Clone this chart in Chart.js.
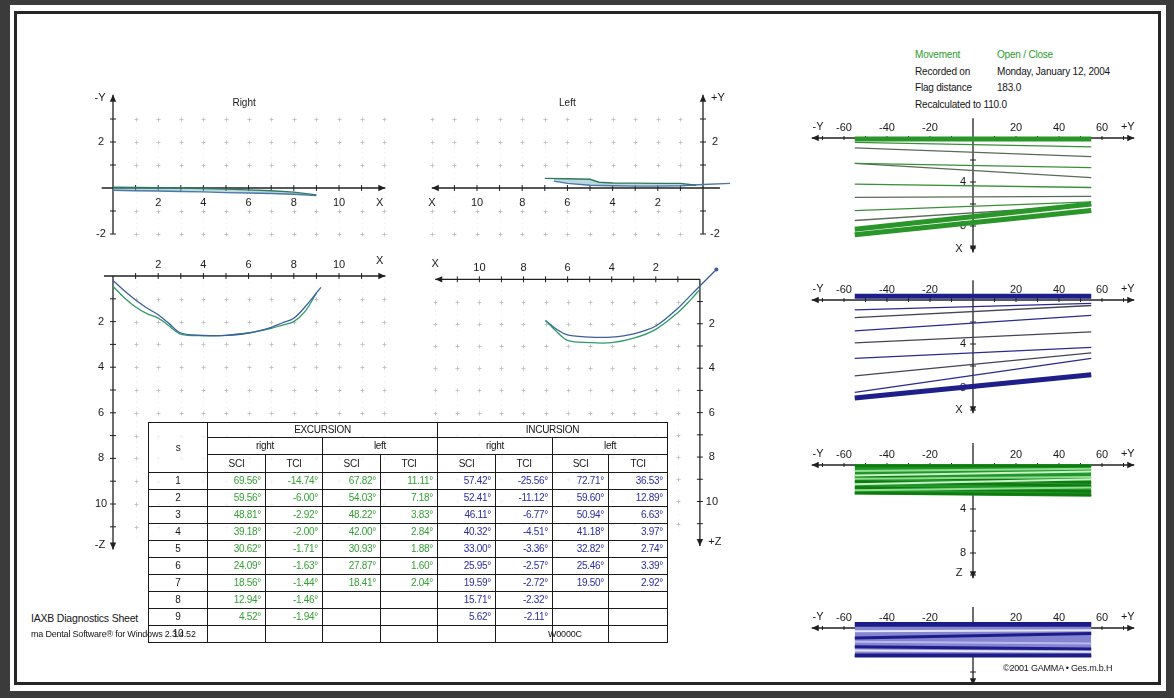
<!DOCTYPE html>
<html><head><meta charset="utf-8">
<script src="https://cdn.jsdelivr.net/npm/chart.js@4.4.1/dist/chart.umd.min.js"></script>
<style>
html,body{margin:0;padding:0;width:1174px;height:698px;overflow:hidden;background:#3b3b3b;}
body{position:relative;font-family:"Liberation Sans",Arial,sans-serif;}
#sheet{position:absolute;left:10px;top:5px;width:1156px;height:686px;background:#fff;}
#frame{position:absolute;left:14px;top:11px;width:1147px;height:674px;border:3px solid #262626;box-sizing:border-box;}
canvas{position:absolute;}
.txt{position:absolute;white-space:nowrap;font-size:10px;line-height:12px;color:#151515;letter-spacing:-0.2px;}
.g{color:#2f9a2f;}
#tbl{position:absolute;left:148px;top:422px;width:519px;border-collapse:collapse;table-layout:fixed;font-size:10px;letter-spacing:-0.3px;color:#151515;}
#tbl td,#tbl th{border:1.5px solid #1a1a1a;padding:0;font-weight:normal;line-height:10px;text-align:center;overflow:hidden;white-space:nowrap;background:rgba(255,255,255,0.78);}
#tbl td.v{text-align:right;padding-right:4px;}
#tbl td.ex{color:#35a035;}
#tbl td.in{color:#2c2ca0;}
</style>
</head><body>
<div id="sheet"></div>
<div id="frame"></div>
<script>
// ===================== DATA =====================
// tick labels
const horizTickLabels = [2, 4, 6, 8, 10];
const upperVertLabels = [2, -2];
const lowerVertLabels = [2, 4, 6, 8, 10];
const fanTickLabels = [-60, -40, -20, 20, 40, 60];
const fanDepthLabels = [4, 8];

// Upper "Right" traces
const upRightGreenX = [0, 1, 2, 3, 4, 5, 6, 7, 8, 9];
const upRightGreenY = [0.03, 0.02, 0.01, 0, -0.02, -0.05, -0.08, -0.12, -0.18, -0.3];
const upRightBlueX  = [0, 1, 2, 3, 4, 5, 6, 7, 8, 9];
const upRightBlueY  = [-0.1, -0.12, -0.13, -0.15, -0.17, -0.2, -0.22, -0.24, -0.27, -0.33];

// Upper "Left" traces
const upLeftGreenX = [7.0, 6.0, 5.0, 4.6, 4.0, 3.0, 2.0, 1.0, 0.3];
const upLeftGreenY = [0.42, 0.4, 0.38, 0.25, 0.22, 0.21, 0.2, 0.2, 0.12];
const upLeftBlueX  = [6.6, 6.0, 5.0, 4.0, 3.0, 2.0, 1.0, 0, -1.2];
const upLeftBlueY  = [0.3, 0.2, 0.12, 0.1, 0.08, 0.08, 0.1, 0.15, 0.2];

// Lower "Right" curves (depth down positive)
const loRightBlueX  = [0, 0.5, 1, 1.5, 2, 2.5, 3, 4, 5, 6, 7, 7.5, 8, 8.5, 9.2];
const loRightBlueY  = [0.2, 0.65, 1.05, 1.4, 1.7, 2.1, 2.5, 2.6, 2.6, 2.5, 2.25, 2.05, 1.85, 1.35, 0.5];
const loRightGreenX = [0, 0.5, 1, 1.5, 2, 2.5, 3, 4, 5, 6, 7, 7.5, 8, 8.5, 9.0];
const loRightGreenY = [0.45, 0.95, 1.36, 1.65, 1.85, 2.2, 2.55, 2.62, 2.6, 2.5, 2.3, 2.15, 2.0, 1.55, 0.75];

// Lower "Left" curves
const loLeftGreenX = [7.0, 6.5, 6.0, 5.0, 4.0, 3.0, 2.0, 1.0, 0.4, 0];
const loLeftGreenY = [1.85, 2.35, 2.75, 2.85, 2.85, 2.65, 2.25, 1.5, 0.9, 0.45];
const loLeftBlueX  = [7.0, 6.5, 6.0, 5.0, 4.0, 3.0, 2.0, 1.0, 0.4, 0, -0.75];
const loLeftBlueY  = [1.85, 2.25, 2.5, 2.6, 2.6, 2.45, 2.1, 1.3, 0.7, 0.3, -0.44];

// Fan panels (each line from y=-55 to y=+55, depths at both ends)
const fanSpan = [-55, 55];
const p1Start = [0.4, 0.9, 2.3, 2.3, 4.2, 5.4, 6.6, 7.5];
const p1End   = [0.8, 1.7, 2.7, 3.6, 4.5, 5.3, 5.8, 6.1];
const p1BandStart = [0.1, 8.3, 8.8];
const p1BandEnd   = [0.1, 6.0, 6.6];

const p2Start = [0.9, 1.6, 2.8, 3.9, 5.3, 6.9, 8.4];
const p2End   = [0.3, 0.5, 1.4, 2.9, 4.3, 4.8, 5.3];
const p2BandStart = [-0.35, 8.9];
const p2BandEnd   = [-0.35, 6.8];

const p3EdgeStart = [0, 2.6];
const p3EdgeEnd   = [0, 2.8];
const p3DarkStart = [0.1, 1.0, 1.5, 2.05, 2.55];
const p3DarkEnd   = [0.1, 1.6, 1.9, 2.4, 2.7];
const p3LightStart = [0.55, 0.95, 1.25, 1.75, 2.3];
const p3LightEnd   = [0.35, 0.6, 1.1, 1.3, 2.05];

const p4EdgeStart = [-0.45, 2.6];
const p4EdgeEnd   = [-0.45, 2.6];
const p4DarkStart = [-0.25, 0.9, 1.7, 2.45];
const p4DarkEnd   = [-0.25, 0.5, 1.9, 2.45];
const p4LightStart = [0.3, 1.25, 2.05];
const p4LightEnd   = [0.2, 1.4, 2.15];

// Table
const rowNums = [1, 2, 3, 4, 5, 6, 7, 8, 9, 10];
const excRightSCI = [69.56, 59.56, 48.81, 39.18, 30.62, 24.09, 18.56, 12.94, 4.52, null];
const excRightTCI = [-14.74, -6.00, -2.92, -2.00, -1.71, -1.63, -1.44, -1.46, -1.94, null];
const excLeftSCI  = [67.82, 54.03, 48.22, 42.00, 30.93, 27.87, 18.41, null, null, null];
const excLeftTCI  = [11.11, 7.18, 3.83, 2.84, 1.88, 1.60, 2.04, null, null, null];
const incRightSCI = [57.42, 52.41, 46.11, 40.32, 33.00, 25.95, 19.59, 15.71, 5.62, null];
const incRightTCI = [-25.56, -11.12, -6.77, -4.51, -3.36, -2.57, -2.72, -2.32, -2.11, null];
const incLeftSCI  = [72.71, 59.60, 50.94, 41.18, 32.82, 25.46, 19.50, null, null, null];
const incLeftTCI  = [36.53, 12.89, 6.63, 3.97, 2.74, 3.39, 2.92, null, null, null];

// ===================== HELPERS =====================
const SPEC = {};
const FONT = "11px 'Liberation Sans', Arial, sans-serif";
function pts(xs, ys) { return xs.map((x, i) => ({x: x, y: ys[i]})); }
function range(a, b, step) { const r = []; for (let v = a; v <= b + 1e-9; v += step) r.push(+v.toFixed(6)); return r; }

function arrowHead(ctx, x1, y1, x2, y2) {
  const a = Math.atan2(y2 - y1, x2 - x1), L = 7, W = 3.2;
  ctx.beginPath();
  ctx.moveTo(x2, y2);
  ctx.lineTo(x2 - L * Math.cos(a) + W * Math.sin(a), y2 - L * Math.sin(a) - W * Math.cos(a));
  ctx.lineTo(x2 - L * Math.cos(a) - W * Math.sin(a), y2 - L * Math.sin(a) + W * Math.cos(a));
  ctx.closePath(); ctx.fill();
}
function drawAxis(ctx, a, X, Y) {
  const h = a.dir === 'h';
  const P = v => h ? [X(v), Y(a.at)] : [X(a.at), Y(v)];
  const [x1, y1] = P(a.from), [x2, y2] = P(a.to);
  ctx.strokeStyle = '#202020'; ctx.fillStyle = '#202020'; ctx.lineWidth = 1.3;
  ctx.beginPath(); ctx.moveTo(x1, y1); ctx.lineTo(x2, y2); ctx.stroke();
  (a.arrows || []).forEach(e => { if (e === 'to') arrowHead(ctx, x1, y1, x2, y2); else arrowHead(ctx, x2, y2, x1, y1); });
  ctx.lineWidth = 1;
  (a.ticks || []).forEach(v => {
    const [px, py] = P(v), t = a.tl || 3;
    ctx.beginPath();
    if (h) { ctx.moveTo(px, py - t); ctx.lineTo(px, py + t); } else { ctx.moveTo(px - t, py); ctx.lineTo(px + t, py); }
    ctx.stroke();
  });
  ctx.font = FONT; ctx.textAlign = 'center'; ctx.textBaseline = 'middle'; ctx.fillStyle = '#1a1a1a';
  (a.labels || []).forEach(v => { const [px, py] = P(v); ctx.fillText(String(v), px + (a.ldx || 0), py + (a.ldy || 0)); });
  (a.names || []).forEach(n => { const [px, py] = P(n.v); ctx.fillText(n.t, px + n.dx, py + n.dy); });
}
const decoPlugin = {
  id: 'deco',
  beforeDatasetsDraw(chart) {
    const s = SPEC[chart.canvas.id]; if (!s) return;
    const ctx = chart.ctx, X = v => chart.scales.x.getPixelForValue(v), Y = v => chart.scales.y.getPixelForValue(v);
    ctx.save();
    if (s.grid) {
      const gx = s.grid.xs, gy = s.grid.ys;
      ctx.lineWidth = 1; ctx.strokeStyle = 'rgba(0,0,0,0.045)'; ctx.setLineDash([2, 3]);
      gx.forEach(v => { const px = Math.round(X(v)) + 0.5; ctx.beginPath(); ctx.moveTo(px, Y(s.grid.y0)); ctx.lineTo(px, Y(s.grid.y1)); ctx.stroke(); });
      ctx.setLineDash([]);
      ctx.strokeStyle = '#c6c6c6';
      gx.forEach(vx => gy.forEach(vy => {
        const px = Math.round(X(vx)) + 0.5, py = Math.round(Y(vy)) + 0.5;
        ctx.beginPath(); ctx.moveTo(px - 2, py); ctx.lineTo(px + 2, py); ctx.moveTo(px, py - 2); ctx.lineTo(px, py + 2); ctx.stroke();
      }));
    }
    (s.axes || []).forEach(a => drawAxis(ctx, a, X, Y));
    (s.texts || []).forEach(t => {
      ctx.font = t.font || FONT; ctx.fillStyle = '#1a1a1a'; ctx.textAlign = 'center'; ctx.textBaseline = 'middle';
      ctx.fillText(t.t, X(t.x), Y(t.y));
    });
    ctx.restore();
  }
};
Chart.register(decoPlugin);

function mkChart(id, box, org, datasets, spec) {
  const cv = document.createElement('canvas');
  cv.id = id; cv.width = box.w; cv.height = box.h;
  cv.style.left = box.l + 'px'; cv.style.top = box.t + 'px';
  document.body.appendChild(cv);
  const xa = (box.l - org.ox) / org.sx, xb = (box.l + box.w - org.ox) / org.sx;
  const ya = (box.t - org.oy) / org.sy, yb = (box.t + box.h - org.oy) / org.sy;
  SPEC[id] = spec;
  new Chart(cv, {
    type: 'line',
    data: {datasets: datasets},
    options: {
      responsive: false, animation: false, events: [],
      layout: {padding: 0},
      plugins: {legend: {display: false}, tooltip: {enabled: false}, title: {display: false}},
      elements: {point: {radius: 0}, line: {tension: 0}},
      scales: {
        x: {type: 'linear', display: false, min: Math.min(xa, xb), max: Math.max(xa, xb), reverse: org.sx < 0},
        y: {type: 'linear', display: false, min: Math.min(ya, yb), max: Math.max(ya, yb), reverse: org.sy > 0}
      }
    }
  });
}
function ds(data, color, width, extra) {
  return Object.assign({data: data, borderColor: color, borderWidth: width, pointRadius: 0, fill: false}, extra || {});
}
function fanLines(starts, ends, colors, width) {
  return starts.map((s, i) => ds(pts(fanSpan, [s, ends[i]]), colors[i % colors.length], width));
}
// Note: Chart.js paints datasets from last to first, so underlying layers go last.

// ===================== LEFT PLOTS =====================
const ticks11 = range(1, 11, 1), grid12 = range(1, 12, 1);
const GREEN = '#2f9a6a', BLUE = '#3d5f9c';

// Upper Right
mkChart('cA', {l: 88, t: 85, w: 312, h: 163}, {ox: 113, oy: 188, sx: 22.6, sy: -23}, [
  ds(pts(upRightGreenX, upRightGreenY), '#2e7a5e', 1.4),
  ds(pts(upRightBlueX, upRightBlueY), '#4c78a8', 1.4, {fill: '-1', backgroundColor: 'rgba(110,170,185,0.45)'})
], {
  grid: {xs: grid12, ys: [-2, -1, 1, 2, 3], y0: -2, y1: 3},
  axes: [
    {dir: 'h', at: 0, from: -0.5, to: 12.05, arrows: ['to'], ticks: ticks11, labels: horizTickLabels, ldy: 15,
     names: [{t: 'X', v: 11.8, dx: 0, dy: 15}]},
    {dir: 'v', at: 0, from: -2, to: 4.05, arrows: ['to'], ticks: [-2, -1, 1, 2, 3], labels: upperVertLabels, ldx: -12,
     names: [{t: '-Y', v: 3.9, dx: -13, dy: 0}]}
  ],
  texts: [{t: 'Right', x: 5.8, y: 3.7, font: "10px 'Liberation Sans', Arial, sans-serif"}]
});

// Upper Left
mkChart('cB', {l: 410, t: 85, w: 330, h: 163}, {ox: 703, oy: 188, sx: -22.6, sy: -23}, [
  ds(pts(upLeftGreenX, upLeftGreenY), '#2e7a5e', 1.4),
  ds(pts(upLeftBlueX, upLeftBlueY), '#4c78a8', 1.4, {fill: '-1', backgroundColor: 'rgba(110,170,185,0.45)'})
], {
  grid: {xs: grid12, ys: [-2, -1, 1, 2, 3], y0: -2, y1: 3},
  axes: [
    {dir: 'h', at: 0, from: -0.75, to: 12.0, arrows: ['to'], ticks: ticks11, labels: horizTickLabels, ldy: 15,
     names: [{t: 'X', v: 12.0, dx: 0, dy: 15}]},
    {dir: 'v', at: 0, from: -2, to: 4.05, arrows: ['to'], ticks: [-2, -1, 1, 2, 3], labels: upperVertLabels, ldx: 12,
     names: [{t: '+Y', v: 3.9, dx: 15, dy: 0}]}
  ],
  texts: [{t: 'Left', x: 6, y: 3.7, font: "10px 'Liberation Sans', Arial, sans-serif"}]
});

// Lower Right
mkChart('cC', {l: 88, t: 250, w: 312, h: 312}, {ox: 113, oy: 276, sx: 22.6, sy: 22.8}, [
  ds(pts(loRightBlueX, loRightBlueY), BLUE, 1.3, {tension: 0.35}),
  ds(pts(loRightGreenX, loRightGreenY), GREEN, 1.3, {tension: 0.35})
], {
  grid: {xs: grid12, ys: range(1, 11, 1), y0: 0, y1: 11.5},
  axes: [
    {dir: 'h', at: 0, from: -0.4, to: 12.05, arrows: ['to'], ticks: ticks11, labels: horizTickLabels, ldy: -11,
     names: [{t: 'X', v: 11.8, dx: 0, dy: -15}]},
    {dir: 'v', at: 0, from: 0, to: 12.0, arrows: ['to'], ticks: ticks11, labels: lowerVertLabels, ldx: -12,
     names: [{t: '-Z', v: 11.8, dx: -13, dy: 0}]}
  ]
});

// Lower Left
mkChart('cD', {l: 410, t: 250, w: 330, h: 312}, {ox: 703, oy: 276, sx: -22.6, sy: 22.8}, [
  ds(pts(loLeftGreenX, loLeftGreenY), GREEN, 1.3, {tension: 0.35}),
  ds(pts(loLeftBlueX, loLeftBlueY), BLUE, 1.3, {tension: 0.3,
     pointRadius: loLeftBlueX.map((v, i) => i === loLeftBlueX.length - 1 ? 2 : 0), pointBackgroundColor: BLUE, pointBorderWidth: 0})
], {
  grid: {xs: grid12, ys: range(1, 11, 1), y0: 0, y1: 11.5},
  axes: [
    {dir: 'h', at: 0, from: 0, to: 12.0, arrows: ['to'], ticks: ticks11, labels: horizTickLabels, ldy: -11,
     names: [{t: 'X', v: 12.0, dx: 0, dy: -15}]},
    {dir: 'v', at: 0, from: 0, to: 12.0, arrows: ['to'], ticks: ticks11, labels: lowerVertLabels, ldx: 12,
     names: [{t: '+Z', v: 11.8, dx: 15, dy: 0}]}
  ]
});

// ===================== RIGHT FAN PANELS =====================
function fanSpec(vFrom, vTo, name, nameAt, depthLabels) {
  return {
    axes: [
      {dir: 'h', at: 0, from: -75, to: 75, arrows: ['from', 'to'], ticks: range(-70, 70, 10).filter(v => v !== 0), tl: 2,
       labels: fanTickLabels, ldy: -10, names: [{t: '-Y', v: -73, dx: 2, dy: -11}, {t: '+Y', v: 72, dx: 0, dy: -11}]},
      {dir: 'v', at: 0, from: vFrom, to: vTo, arrows: ['to'], ticks: range(2, Math.floor(vTo), 2), labels: depthLabels, ldx: -10,
       names: name ? [{t: name, v: nameAt, dx: -14, dy: 0}] : []}
    ]
  };
}
const FAN = {sx: 2.15, sy: 11, ox: 973};

mkChart('p1', {l: 800, t: 112, w: 345, h: 150}, {ox: FAN.ox, oy: 138, sx: FAN.sx, sy: FAN.sy},
  [].concat(
    fanLines(p1BandStart, p1BandEnd, ['#2a962a'], 5),
    fanLines(p1Start, p1End, ['#3a8f3a', '#5a6b5a'], 1.3)
  ), fanSpec(-1.8, 10.4, 'X', 10.1, fanDepthLabels));

mkChart('p2', {l: 800, t: 274, w: 345, h: 146}, {ox: FAN.ox, oy: 300, sx: FAN.sx, sy: FAN.sy},
  [].concat(
    fanLines(p2BandStart, p2BandEnd, ['#1f1f8c'], 5),
    fanLines(p2Start, p2End, ['#2a2a90', '#444455'], 1.3)
  ), fanSpec(-1.8, 10.3, 'X', 10.0, fanDepthLabels));

mkChart('p3', {l: 800, t: 438, w: 345, h: 146}, {ox: FAN.ox, oy: 465, sx: FAN.sx, sy: FAN.sy},
  [].concat(
    fanLines(p3LightStart, p3LightEnd, ['#8fdc8f', '#c9f0c9'], 2),
    fanLines(p3DarkStart, p3DarkEnd, ['#0f7a0f'], 2.5),
    [ds(pts(fanSpan, [p3EdgeStart[0], p3EdgeEnd[0]]), '#1e8e1e', 2),
     ds(pts(fanSpan, [p3EdgeStart[1], p3EdgeEnd[1]]), '#1e8e1e', 2, {fill: '-1', backgroundColor: '#21962a'})]
  ), fanSpec(-2, 10.3, 'Z', 9.8, fanDepthLabels));

mkChart('p4', {l: 800, t: 600, w: 345, h: 83}, {ox: FAN.ox, oy: 628, sx: FAN.sx, sy: FAN.sy},
  [].concat(
    fanLines(p4LightStart, p4LightEnd, ['#e6e6fb', '#b9b9ee'], 2),
    fanLines(p4DarkStart, p4DarkEnd, ['#1c1c8a'], 3),
    [ds(pts(fanSpan, [p4EdgeStart[0], p4EdgeEnd[0]]), '#1a1a88', 2),
     ds(pts(fanSpan, [p4EdgeStart[1], p4EdgeEnd[1]]), '#1a1a88', 2, {fill: '-1', backgroundColor: '#8585d2'})]
  ), fanSpec(-1.9, 5.2, '', 0, []));

// ===================== TABLE =====================
(function buildTable() {
  const widths = [59, 58, 57, 58, 57, 58, 57, 56, 59];
  const t = document.createElement('table'); t.id = 'tbl';
  let h = '<colgroup>' + widths.map(w => '<col style="width:' + w + 'px">').join('') + '</colgroup>';
  h += '<tr style="height:15px"><th rowspan="3">s</th><th colspan="4">EXCURSION</th><th colspan="4">INCURSION</th></tr>';
  h += '<tr style="height:17px"><th colspan="2">right</th><th colspan="2">left</th><th colspan="2">right</th><th colspan="2">left</th></tr>';
  h += '<tr style="height:18px">' + ['SCI', 'TCI', 'SCI', 'TCI', 'SCI', 'TCI', 'SCI', 'TCI'].map(s => '<th>' + s + '</th>').join('') + '</tr>';
  const cols = [excRightSCI, excRightTCI, excLeftSCI, excLeftTCI, incRightSCI, incRightTCI, incLeftSCI, incLeftTCI];
  rowNums.forEach((n, i) => {
    h += '<tr style="height:17px"><td>' + n + '</td>';
    cols.forEach((c, k) => {
      const v = c[i];
      h += '<td class="v ' + (k < 4 ? 'ex' : 'in') + '">' + (v === null ? '' : v.toFixed(2) + '°') + '</td>';
    });
    h += '</tr>';
  });
  t.innerHTML = h;
  document.body.appendChild(t);
})();

// ===================== TEXTS =====================
function txt(s, l, t, cls, style) {
  const d = document.createElement('div');
  d.className = 'txt' + (cls ? ' ' + cls : ''); d.textContent = s;
  d.style.left = l + 'px'; d.style.top = t + 'px';
  if (style) d.setAttribute('style', d.getAttribute('style') + ';' + style);
  document.body.appendChild(d);
}
txt('Movement', 915, 49, 'g');
txt('Open / Close', 997, 49, 'g');
txt('Recorded on', 915, 66);
txt('Monday, January 12, 2004', 997, 66);
txt('Flag distance', 915, 82);
txt('183.0', 997, 82);
txt('Recalculated to 110.0', 915, 99);
txt('IAXB Diagnostics Sheet', 31, 612, '', 'font-size:10.5px');
txt('ma Dental Software® for Windows 2.3.4.52', 31, 628, '', 'font-size:9px');
txt('W0000C', 548, 628, '', 'font-size:9px');
txt('©2001 GAMMA • Ges.m.b.H', 1003, 662, '', 'font-size:9px');
</script>
</body></html>
